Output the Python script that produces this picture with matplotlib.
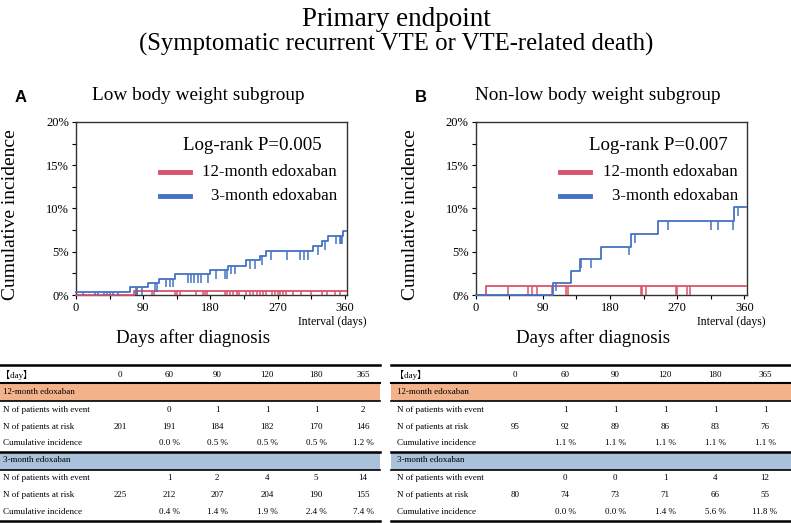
import numpy as np
import matplotlib
matplotlib.use("Agg")
import matplotlib.pyplot as plt

W, H = 791, 523
SERIF = ['Liberation Serif', 'Noto Sans CJK JP', 'DejaVu Serif']
plt.rcParams['font.family'] = SERIF

RED = '#D9536A'
BLUE = '#4472C4'
ORANGE_BAND = '#F4B28B'
BLUE_BAND = '#A9C1DA'

# ---- Kaplan-Meier style curves (days, cumulative incidence %) ----
low_3m_t = [0, 73, 96, 111, 133, 180, 204, 228, 246, 255, 318, 329, 337, 358]
low_3m_y = [0.38, 0.9, 1.4, 1.88, 2.38, 2.9, 3.4, 4.0, 4.5, 5.04, 5.65, 6.23, 6.85, 7.38]
low_3m_cens = [10, 26, 29, 37, 41, 45, 50, 56, 80, 82, 89, 106, 109, 121, 126, 130,
               150, 154, 158, 163, 168, 177, 187, 200, 202, 208, 213, 233, 240, 249,
               261, 282, 300, 306, 311, 324, 333, 348, 353, 355, 356]
low_12m_t = [0, 78]
low_12m_y = [0.0, 0.5]
low_12m_cens = [80, 82, 102, 104, 132, 135, 139, 161, 170, 173, 175, 199, 202, 206,
                210, 215, 219, 228, 233, 237, 242, 246, 251, 255, 262, 266, 271, 273,
                277, 281, 291, 302, 315, 329, 336, 347, 353]

non_3m_t = [0, 103, 127.5, 140, 168.4, 208.6, 244, 346]
non_3m_y = [0.0, 1.42, 2.73, 4.15, 5.58, 7.04, 8.5, 10.19]
non_3m_cens = [108, 141, 154, 206, 214, 257, 315, 325, 344, 352]
non_12m_t = [0, 14]
non_12m_y = [0.0, 1.04]
non_12m_cens = [43, 69.5, 75, 81.6, 101.6, 121, 124, 222, 223, 228.6, 268.7, 270,
                283.4, 286.5]

# ---- number-at-risk tables ----
days_hdr = ['0', '60', '90', '120', '180', '365']
row_names = ['N of patients with event', 'N of patients at risk', 'Cumulative incidence']

low_12_event = ['', '0', '1', '1', '1', '2']
low_12_risk = ['201', '191', '184', '182', '170', '146']
low_12_ci = ['', '0.0 %', '0.5 %', '0.5 %', '0.5 %', '1.2 %']
low_3_event = ['', '1', '2', '4', '5', '14']
low_3_risk = ['225', '212', '207', '204', '190', '155']
low_3_ci = ['', '0.4 %', '1.4 %', '1.9 %', '2.4 %', '7.4 %']

non_12_event = ['', '1', '1', '1', '1', '1']
non_12_risk = ['95', '92', '89', '86', '83', '76']
non_12_ci = ['', '1.1 %', '1.1 %', '1.1 %', '1.1 %', '1.1 %']
non_3_event = ['', '0', '0', '1', '4', '12']
non_3_risk = ['80', '74', '73', '71', '66', '55']
non_3_ci = ['', '0.0 %', '0.0 %', '1.4 %', '5.6 %', '11.8 %']

fig = plt.figure(figsize=(W / 100, H / 100), dpi=100)


def fx(x):
    return x / W


def fy(y):
    return 1 - y / H


# overlay axes in pixel coordinates for tables / titles
ov = fig.add_axes([0, 0, 1, 1])
ov.set_xlim(0, W)
ov.set_ylim(H, 0)
ov.axis('off')

ov.text(396, 19, 'Primary endpoint', ha='center', va='center', fontsize=19.5)
ov.text(396, 44, '(Symptomatic recurrent VTE or VTE-related death)', ha='center',
        va='center', fontsize=17.8)


def km(ax, t, y, cens, color):
    t = list(t) + [362]
    y = list(y) + [y[-1]]
    ax.step(t, y, where='post', color=color, lw=1.3, clip_on=False, zorder=3)
    idx = np.searchsorted(np.array(t), np.array(cens), side='right') - 1
    lev = np.array(y)[idx]
    ax.vlines(cens, lev - 1.0, lev, color=color, lw=1.1, zorder=3)


def panel(left, letter, subtitle, pval, curves, leg_x):
    ax = fig.add_axes([fx(left), fy(295), fx(271), 173 / H])
    for t, y, c, col in curves:
        km(ax, t, y, c, col)
    ax.set_xlim(0, 363)
    ax.set_ylim(0, 20)
    ax.set_xticks([0, 90, 180, 270, 360])
    ax.set_xticks(np.arange(45, 360, 90), minor=True)
    ax.set_yticks([0, 5, 10, 15, 20])
    ax.set_yticklabels(['0%', '5%', '10%', '15%', '20%'])
    ax.set_yticks(np.arange(2.5, 20, 5), minor=True)
    ax.tick_params(direction='out', length=3, width=0.8, labelsize=9, pad=2)
    ax.tick_params(which='minor', direction='out', length=3, width=0.8)
    for s in ax.spines.values():
        s.set_linewidth(1.0)
        s.set_color('#333333')
    # legend drawn by hand
    ax.text(leg_x[0], 0.867, pval, transform=ax.transAxes, ha='right', va='center',
            fontsize=13.6)
    ax.plot([0.31, 0.42], [0.712, 0.712], transform=ax.transAxes, color=RED, lw=3.5)
    ax.plot([0.31, 0.42], [0.574, 0.574], transform=ax.transAxes, color=BLUE, lw=3.5)
    ax.text(leg_x[1], 0.712, '12-month edoxaban', transform=ax.transAxes, ha='right',
            va='center', fontsize=12.2)
    ax.text(leg_x[1], 0.574, '3-month edoxaban', transform=ax.transAxes, ha='right',
            va='center', fontsize=12.2)
    # labels
    ov.text(left - 65, 215, 'Cumulative incidence', rotation=90, ha='center',
            va='center', fontsize=14)
    ov.text(left + 117, 338, 'Days after diagnosis', ha='center', va='center',
            fontsize=13.6)
    ov.text(left + 290, 322, 'Interval (days)', ha='right', va='center', fontsize=8.5)
    ov.text(left - 61, 97, letter, ha='left', va='center', fontsize=12,
            fontweight='bold', family='Liberation Sans')
    ov.text(left + 122, 96, subtitle, ha='center', va='center', fontsize=13.9)
    return ax


panel(76, 'A', 'Low body weight subgroup', 'Log-rank P=0.005',
      [(low_12m_t, low_12m_y, low_12m_cens, RED),
       (low_3m_t, low_3m_y, low_3m_cens, BLUE)], (0.908, 0.963))
panel(475.7, 'B', 'Non-low body weight subgroup', 'Log-rank P=0.007',
      [(non_12m_t, non_12m_y, non_12m_cens, RED),
       (non_3m_t, non_3m_y, non_3m_cens, BLUE)], (0.931, 0.967))


def table(x0, x1, lab_x, col_x, g12, g3):
    fs = 6.5
    ov.add_patch(plt.Rectangle((x0, 383), x1 - x0, 18, color=ORANGE_BAND, lw=0))
    ov.add_patch(plt.Rectangle((x0, 451.5), x1 - x0, 18.5, color=BLUE_BAND, lw=0))
    for yy, lw in [(365, 1.8), (383, 1.5), (401, 1.2), (451.5, 1.8), (470, 1.2),
                   (521, 1.8)]:
        ov.plot([x0, x1], [yy, yy], color='black', lw=lw)
    ov.text(lab_x - 2, 375, '【day】', ha='left', va='center', fontsize=fs)
    for cx, d in zip(col_x, days_hdr):
        ov.text(cx, 375, d, ha='center', va='center', fontsize=fs)
    ov.text(lab_x, 392, '12-month edoxaban', ha='left', va='center', fontsize=fs)
    ov.text(lab_x, 460.5, '3-month edoxaban', ha='left', va='center', fontsize=fs)
    for rows, ys in [(g12, [410, 427, 443]), (g3, [478, 495, 512])]:
        for name, vals, yy in zip(row_names, rows, ys):
            ov.text(lab_x, yy, name, ha='left', va='center', fontsize=fs)
            for cx, v in zip(col_x, vals):
                ov.text(cx, yy, v, ha='center', va='center', fontsize=fs)


table(0, 380, 3, [120, 169, 217, 267, 316, 363],
      [low_12_event, low_12_risk, low_12_ci], [low_3_event, low_3_risk, low_3_ci])
table(391, 791, 397, [515, 565, 615, 665, 715, 765],
      [non_12_event, non_12_risk, non_12_ci], [non_3_event, non_3_risk, non_3_ci])

fig.savefig('out.png', dpi=100)
